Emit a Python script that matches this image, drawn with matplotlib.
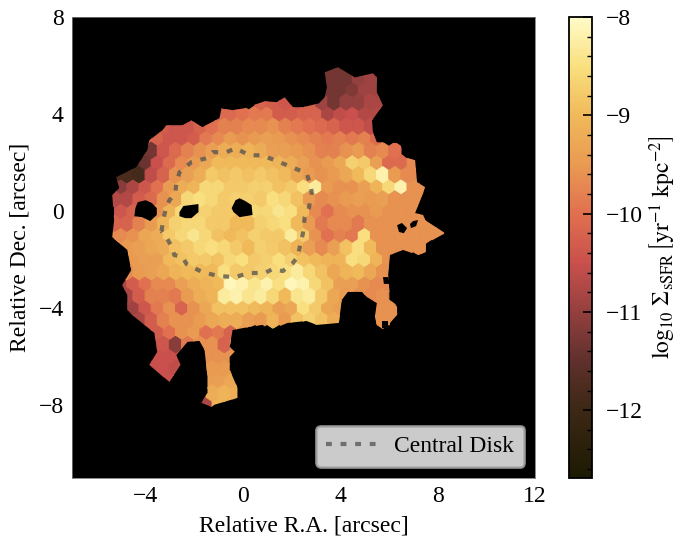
import numpy as np
from matplotlib import pyplot as plt
from matplotlib.colors import LinearSegmentedColormap
from matplotlib.patches import Polygon
from matplotlib.ticker import MultipleLocator

plt.rcParams['font.family'] = ['Liberation Serif', 'DejaVu Serif']
plt.rcParams['mathtext.fontset'] = 'stix'
plt.rcParams['font.size'] = 17

# colour levels
cmap_levels = [-12.69, -12.0, -11.5, -11.0, -10.5, -10.0, -9.5, -9.0, -8.5, -8.0]
cmap_colors = ['#1c1a02', '#3c2815', '#60302c', '#94403f', '#c9504c', '#e0704f',
               '#e99a52', '#f0b95a', '#f9df7e', '#fffbc8']
vmin, vmax = -12.69, -8.0

# first cell x of each map row, rows go from y=6 down to y=-8 in 0.5 steps
row_x0 = [3.5, 3.25, 3.0, 0.75, -1.0, -3.25, -4.0, -4.25, -4.5, -5.25, -5.0, -5.25, -5.0, -5.25,
          -5.5, -5.25, -4.5, -4.75, -5.0, -4.75, -5.0, -4.75, -4.0, -3.75, -3.5, -3.75, -3.5,
          -1.75, -2.0]
# sSFR per cell as -10*log10, so 95 is -9.5, 0 is no cell
row_vals = [
    [113, 113, 112, 109, 109],
    [113, 113, 113, 110, 109, 109],
    [113, 113, 113, 112, 109, 109],
    [102, 103, 104, 103, 102, 109, 113, 110, 110, 108, 108],
    [101, 101, 100, 99, 99, 103, 103, 102, 102, 108, 106, 105, 107, 107, 107],
    [103, 104, 104, 102, 100, 98, 98, 97, 97, 96, 98, 99, 100, 101, 102, 104, 104, 106, 104],
    [103, 102, 104, 104, 103, 99, 97, 95, 96, 95, 94, 95, 96, 97, 98, 99, 98, 99, 98, 101],
    [113, 113, 104, 101, 98, 96, 94, 92, 92, 91, 92, 94, 94, 95, 96, 98, 98, 96, 95, 98, 97, 100],
    [118, 114, 105, 101, 97, 95, 93, 90, 90, 90, 90, 90, 91, 92, 94, 96, 95, 93, 87, 88, 94, 101, 101, 97],
    [118, 118, 119, 106, 102, 96, 94, 92, 88, 89, 88, 89, 88, 89, 90, 93, 95, 96, 95, 93, 90, 86, 82, 95, 97, 97],
    [111, 108, 104, 100, 95, 92, 91, 86, 86, 88, 88, 87, 87, 89, 88, 85, 83, 95, 96, 96, 94, 91, 86, 82, 96, 96, 96],
    [107, 107, 103, 101, 96, 93, 86, 85, 86, 88, 87, 87, 88, 85, 86, 89, 95, 97, 96, 95, 94, 95, 94, 96, 96, 96],
    [104, 102, 100, 96, 91, 86, 87, 87, 88, 88, 88, 86, 86, 84, 85, 90, 97, 100, 97, 96, 96, 95, 96, 96, 96, 96],
    [102, 102, 98, 95, 91, 87, 86, 86, 88, 88, 90, 90, 87, 86, 85, 90, 95, 99, 97, 97, 99, 96, 96, 96, 96, 96, 96],
    [97, 97, 96, 93, 92, 88, 86, 84, 86, 89, 90, 89, 87, 88, 88, 83, 88, 96, 100, 98, 99, 85, 96, 96, 96, 96, 96, 96],
    [96, 95, 94, 93, 92, 89, 88, 86, 85, 86, 88, 90, 87, 88, 89, 91, 94, 97, 94, 89, 85, 90, 96, 96, 96, 96],
    [95, 94, 94, 90, 89, 88, 88, 89, 86, 85, 88, 87, 85, 87, 89, 90, 91, 91, 85, 86, 91, 96],
    [97, 95, 94, 93, 91, 90, 90, 90, 85, 88, 88, 87, 86, 85, 83, 86, 89, 93, 91, 90, 93, 96],
    [108, 103, 100, 97, 97, 94, 92, 91, 90, 81, 82, 84, 82, 85, 81, 82, 86, 89, 94, 94, 96, 97, 97],
    [108, 103, 98, 98, 99, 95, 92, 91, 83, 82, 84, 83, 86, 90, 84, 83, 88, 93, 95, 96, 97, 96],
    [110, 109, 104, 99, 96, 102, 96, 93, 89, 89, 89, 90, 91, 94, 93, 85, 88, 93, 94, 96, 96, 96, 96, 96, 96],
    [108, 108, 103, 98, 96, 96, 95, 93, 92, 92, 94, 95, 91, 95, 89, 87, 89, 92, 96, 96, 96, 96, 96, 96],
    [103, 103, 100, 96, 95, 100, 99, 102, 95],
    [105, 104, 111, 99, 96, 96, 102, 96],
    [105, 105, 105, 100, 96, 96, 96],
    [105, 105, 106, 100, 95, 95, 95, 95],
    [105, 105, 105, 100, 94, 94, 93, 93],
    [108, 92, 91, 92],
    [108, 108, 91, 91],
]

# outline of the map and the holes in it
outline_x = [3.37, 3.91, 4.61, 5.35, 5.51, 5.51, 5.76, 5.31, 5.35, 5.51, 6.46, 6.67, 7.08, 7.16, 7.49, 7.41,
             7.08, 7.41, 7.49, 8.31, 7.57, 7.57, 7.20, 6.58, 6.05, 5.97, 6.05, 6.34, 6.34, 6.05, 5.97, 5.56,
             5.43, 5.51, 5.10, 4.90, 4.32, 4.07, 3.95, 3.05, 2.63, 2.22, 1.85, 1.11, 0.82, 0.29, -0.41, -0.53,
             -0.33, -0.53, -0.53, -0.21, -0.21, -1.15, -1.28, -1.69, -1.44, -1.44, -1.56, -1.77, -2.26, -2.72,
             -2.55, -3.00, -3.83, -3.50, -3.62, -4.53, -4.73, -4.73, -4.94, -4.57, -4.73, -5.35, -5.27, -5.35,
             -5.06, -5.19, -4.36, -3.91, -3.83, -3.29, -3.13, -2.47, -2.10, -1.65, -0.95, -0.86, -0.41, 0.08,
             0.91, 1.40, 1.73, 2.06, 2.47, 3.13, 3.37, 3.46]
outline_y = [5.72, 5.93, 5.51, 5.68, 5.51, 4.90, 4.36, 3.74, 3.25, 2.84, 2.80, 2.22, 2.10, 1.19, 0.99, 0.74,
             -0.08, -0.16, -0.37, -0.91, -1.32, -1.69, -1.81, -1.60, -1.81, -2.63, -3.54, -3.95, -4.28, -4.61,
             -5.10, -4.90, -4.36, -3.79, -3.54, -3.33, -3.33, -3.66, -4.61, -4.69, -4.53, -4.57, -4.61, -4.90,
             -4.69, -4.77, -4.90, -5.60, -5.80, -6.01, -6.54, -7.28, -7.70, -7.98, -8.07, -7.90, -7.49, -6.83,
             -5.72, -5.35, -5.39, -5.93, -6.34, -7.04, -6.34, -5.80, -5.02, -4.28, -4.07, -3.46, -3.05, -2.43,
             -1.60, -1.07, -0.37, 0.66, 0.95, 1.40, 1.81, 2.51, 2.92, 3.33, 3.54, 3.54, 3.74, 3.46, 3.83, 4.24,
             4.16, 4.24, 4.53, 4.49, 4.69, 4.28, 4.28, 4.44, 4.69, 5.10]
holes = [
    [(-4.40, 0.12), (-4.30, 0.37), (-3.97, 0.45), (-3.72, 0.33), (-3.52, 0.12), (-3.52, -0.16), (-3.79, -0.41),
     (-4.12, -0.25), (-4.44, -0.21)],
    [(-2.59, -0.04), (-2.43, 0.21), (-1.81, 0.29), (-1.81, -0.04), (-2.10, -0.29), (-2.35, -0.29), (-2.59, -0.21)],
    [(-0.45, 0.12), (-0.29, 0.45), (-0.12, 0.53), (0.12, 0.41), (0.37, 0.25), (0.41, -0.16), (-0.12, -0.25),
     (-0.37, -0.04)],
    [(6.34, -0.58), (6.54, -0.49), (6.75, -0.70), (6.62, -0.91), (6.42, -0.86)],
    [(6.87, -0.53), (7.00, -0.41), (7.20, -0.37), (7.12, -0.62), (6.91, -0.70)],
    [(5.72, -4.53), (5.97, -4.53), (5.97, -4.82), (5.72, -4.82)],
    [(5.76, -2.72), (5.97, -2.72), (6.05, -3.00), (5.80, -3.00)],
]

disk_x = [-3.33, -3.21, -3.13, -3.00, -2.76, -2.72, -2.59, -2.10, -1.48, -1.23, -0.66, -0.29, 0.29, 0.78, 1.32,
          2.02, 2.63, 2.76, 2.84, 2.72, 2.55, 2.47, 2.39, 2.26, 2.06, 1.65, 1.23, 0.91, 0.29, -0.33, -1.03, -1.65,
          -1.98, -2.30, -2.47, -2.80, -2.92, -3.13, -3.33]
disk_y = [-0.82, -0.16, 0.16, 0.45, 0.74, 1.11, 1.60, 2.02, 2.18, 2.43, 2.43, 2.59, 2.30, 2.30, 2.10, 1.81, 1.56,
          1.15, 0.78, 0.12, -0.25, -0.95, -1.28, -1.89, -2.14, -2.47, -2.39, -2.55, -2.55, -2.72, -2.67, -2.51,
          -2.35, -2.18, -1.89, -1.81, -1.44, -1.07, -0.82]

# flatten the rows into cell lists
cell_x, cell_y, cell_v = [], [], []
for k, vals in enumerate(row_vals):
    for i, v in enumerate(vals):
        if v > 0:
            cell_x.append(row_x0[k] + 0.5 * i)
            cell_y.append(6.0 - 0.5 * k)
            cell_v.append(-v / 10.0)

frac = [(lv - vmin) / (vmax - vmin) for lv in cmap_levels]
cmap = LinearSegmentedColormap.from_list('ssfr', list(zip(frac, cmap_colors)))

fig = plt.figure(figsize=(6.83, 5.37), dpi=100)
ax = fig.add_axes([72 / 683, 59 / 537, 463 / 683, 461 / 537])
ax.set_facecolor('black')

hb = ax.hexbin(cell_x, cell_y, C=cell_v, gridsize=(29, 14), extent=(-5.5, 9.0, -8.0, 6.0),
               cmap=cmap, vmin=vmin, vmax=vmax, linewidths=0.8, edgecolors='face')
outline = Polygon(list(zip(outline_x, outline_y)), closed=True, transform=ax.transData)
hb.set_clip_path(outline)

for hole in holes:
    ax.add_patch(Polygon(hole, closed=True, facecolor='black', edgecolor='none', zorder=2))

ax.plot(disk_x, disk_y, color='#505050', alpha=0.75, lw=3, dashes=(1.4, 2.1), zorder=3, label='Central Disk')

ax.set_xlim(-7, 12)
ax.set_ylim(-11, 8)
ax.set_xticks([-4, 0, 4, 8, 12])
ax.set_yticks([-8, -4, 0, 4, 8])
ax.tick_params(direction='in', length=0, pad=6)
for s in ax.spines.values():
    s.set_linewidth(0.6)
    s.set_color('#777777')
ax.set_xlabel('Relative R.A. [arcsec]', labelpad=6)
ax.set_ylabel('Relative Dec. [arcsec]', labelpad=6)

leg = ax.legend(loc='lower right', bbox_to_anchor=(0.977, 0.024), borderaxespad=0, framealpha=0.8,
                facecolor='white', edgecolor='#aaaaaa', handlelength=2.1, handletextpad=0.8, borderpad=0.42)
leg.get_frame().set_linewidth(2)

cax = fig.add_axes([569 / 683, 59 / 537, 23 / 683, 461 / 537])
cb = fig.colorbar(hb, cax=cax)
cb.set_ticks([-8, -9, -10, -11, -12])
cax.yaxis.set_minor_locator(MultipleLocator(0.2))
cax.tick_params(which='major', direction='in', length=6.5, width=1.2, color='black', pad=10)
cax.tick_params(which='minor', direction='in', length=3.5, width=1.0, color='black')
cb.outline.set_linewidth(1.3)
cb.set_label(r'$\log_{10}\,\Sigma_{\rm sSFR}\,\left[{\rm yr^{-1}\ kpc^{-2}}\right]$', labelpad=3)

fig.savefig('out.png', dpi=100)
